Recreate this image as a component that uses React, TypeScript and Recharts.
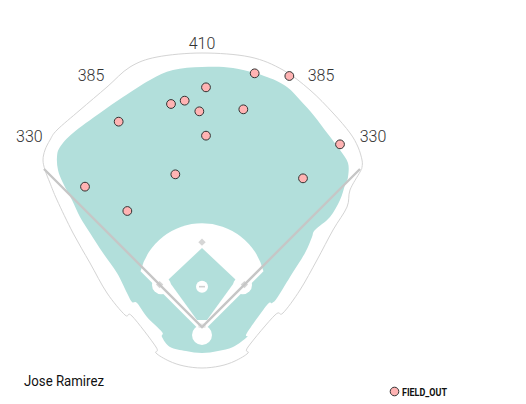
import { ScatterChart, Scatter, XAxis, YAxis } from 'recharts'

// spray chart, feet from home plate (x = toward 1B side, y = toward CF)
const W = 526
const H = 404
const X_MIN = -303
const X_MAX = 486
const Y_MIN = -115.5
const Y_MAX = 490.5
const PX_PER_FT = W / (X_MAX - X_MIN)

const TEAL = '#b2dfdb'
const LINE_GRAY = '#c6c6c6'
const POINT_FILL = '#ffb3b3'

// batted balls (all FIELD_OUT)
const hitX = [79, 131, 6, -46.5, -26, -4, 62, -125, 6, 207, -40, 151.5, -175.5, -112]
const hitY = [380.5, 376.5, 359.5, 334.5, 339.5, 323.5, 326.5, 308, 287, 274, 229, 223, 210.5, 174]
const hits = hitX.map((x, i) => ({ x, y: hitY[i], event: 'FIELD_OUT' }))

// wall distances
const distanceText = ['330', '385', '410', '385', '330']
const distanceX = [-259, -166.5, 0, 178.5, 256.5]
const distanceY = [286.5, 378, 426, 378, 286.5]
const distances = distanceText.map((text, i) => ({ x: distanceX[i], y: distanceY[i], text }))

// field outline (wall + foul territory edge)
const wallOutline: [number, number][] = [
  [-235.5, 235.5], [-238.5, 250.5], [-235.5, 265.5], [-228, 280.5], [-217.5, 295.5],
  [-183, 325.5], [-142.5, 360], [-108, 390], [-67.5, 405], [0, 411],
  [72, 405], [121.5, 385.5], [162, 355.5], [196.5, 321], [222, 291], [234, 270],
  [240, 250.5], [240, 240], [237, 232.5], [222, 205.5], [217.5, 180], [196.5, 145.5],
  [172.5, 100.5], [147, 55.5], [121.5, 21], [109.5, 18], [69, -30], [69, -39],
  [49.5, -51], [27, -58.5], [0, -61.5], [-27, -58.5], [-49.5, -51], [-69, -39],
  [-69, -30], [-105, 16.5], [-115.5, 18], [-142.5, 51], [-168, 96], [-193.5, 141],
  [-217.5, 190.5], [-228, 216],
]

const outfieldGrass: [number, number][] = [
  [0, 390], [46.5, 388.5], [97.5, 375], [127.5, 360], [147, 340.5], [168, 317],
  [188, 290.5], [207, 265.5], [219, 246], [219, 225], [214.5, 213], [207, 190.5],
  [192, 165], [169.5, 145.5], [165, 135], [154.5, 111], [132, 75], [112.5, 43.5],
  [105, 36], [97.5, 33], [67.5, -9], [67.5, -15], [46.5, -30], [24, -36], [0, -39],
  [-24, -36], [-48, -30], [-60, -15], [-60, -7.5], [-82.5, 15], [-97.5, 36],
  [-105, 37.5], [-112.5, 51], [-127.5, 81], [-148.5, 111], [-168, 141], [-183, 165],
  [-195, 190.5], [-208.5, 216], [-216, 235.5], [-217.5, 255], [-213, 270],
  [-193.5, 291], [-153, 321], [-118.5, 345], [-78, 370.5], [-43.5, 385.5],
]

// infield dirt: home-left, arc start, arc end, home-right, arc centre (mound)
const infieldDirt: [number, number][] = [
  [-4.2, -4.2], [-92.2, 83.6], [92.2, 83.6], [4.2, -4.2], [0, 60.5],
]

const infieldGrass: [number, number][] = [
  [0, 118.5], [51, 70.5], [7.5, 10.5], [-7.5, 10.5], [-51, 70.5],
]

const homeCircle = [{ x: 0, y: -12, r: 15 }]
const cutoutCircles = [
  { x: 61, y: 63, r: 14 },
  { x: -61, y: 63, r: 14 },
  { x: 0, y: 60.5, r: 9 },
]

const bases = [
  { x: 63.6, y: 63.6, kind: 'base' },
  { x: 0, y: 127.3, kind: 'base' },
  { x: -63.6, y: 63.6, kind: 'base' },
  { x: 0, y: 60.5, kind: 'rubber' },
  { x: 0, y: 2, kind: 'plate' },
]

const foulLines: [number, number][] = [[-237, 237], [0, 0], [237, 237]]

const toData = (pts: [number, number][]) => pts.map(([x, y]) => ({ x, y }))
const noShape = () => <g />

// closed catmull-rom through the projected points
function smoothClosed(pts: { x: number; y: number }[]) {
  const n = pts.length
  let d = `M${pts[0].x},${pts[0].y}`
  for (let i = 0; i < n; i++) {
    const p0 = pts[(i - 1 + n) % n]
    const p1 = pts[i]
    const p2 = pts[(i + 1) % n]
    const p3 = pts[(i + 2) % n]
    const c1x = p1.x + (p2.x - p0.x) / 6
    const c1y = p1.y + (p2.y - p0.y) / 6
    const c2x = p2.x - (p3.x - p1.x) / 6
    const c2y = p2.y - (p3.y - p1.y) / 6
    d += `C${c1x},${c1y} ${c2x},${c2y} ${p2.x},${p2.y}`
  }
  return d + 'Z'
}

const polygon = (fill: string, stroke = 'none', strokeWidth = 1, smooth = false) => (props: any) => {
  const pts = props.points || []
  if (!pts.length) return <g />
  const d = smooth
    ? smoothClosed(pts)
    : pts.map((p: any, i: number) => `${i ? 'L' : 'M'}${p.x},${p.y}`).join('') + 'Z'
  return <path d={d} fill={fill} stroke={stroke} strokeWidth={strokeWidth} />
}

const dirtPath = (props: any) => {
  const p = props.points || []
  if (p.length < 5) return <g />
  const c = p[4]
  const r = Math.hypot(p[1].x - c.x, p[1].y - c.y)
  const d = `M${p[0].x},${p[0].y}L${p[1].x},${p[1].y}A${r},${r} 0 0 1 ${p[2].x},${p[2].y}L${p[3].x},${p[3].y}Z`
  return <path d={d} fill="#fff" />
}

const polyline = (props: any) => {
  const pts = props.points || []
  if (!pts.length) return <g />
  const d = pts.map((p: any, i: number) => `${i ? 'L' : 'M'}${p.x},${p.y}`).join('')
  return <path d={d} fill="none" stroke={LINE_GRAY} strokeWidth={2.4} />
}

const whiteCircle = (props: any) => (
  <circle cx={props.cx} cy={props.cy} r={props.payload.r * PX_PER_FT} fill="#fff" />
)

const baseShape = (props: any) => {
  const { cx, cy, payload } = props
  if (payload.kind === 'rubber') {
    return <rect x={cx - 3} y={cy - 0.8} width={6} height={1.6} fill="#d0d0d0" />
  }
  if (payload.kind === 'plate') {
    return <rect x={cx - 3} y={cy - 1.5} width={6} height={3} fill="#fff" stroke="#d8d8d8" strokeWidth={0.8} />
  }
  return (
    <rect x={cx - 2.6} y={cy - 2.6} width={5.2} height={5.2} fill="#d6d6d6"
      transform={`rotate(45 ${cx} ${cy})`} />
  )
}

const distanceLabel = (props: any) => (
  <text x={props.cx} y={props.cy} textAnchor="middle" dominantBaseline="central"
    fontFamily="Roboto, sans-serif" fontWeight={300} fontSize={16} fill="#333">
    {props.payload.text}
  </text>
)

const hitDot = (props: any) => (
  <circle cx={props.cx} cy={props.cy} r={4.4} fill={POINT_FILL} stroke="#333" strokeWidth={1} />
)

export default function App() {
  return (
    <div style={{ position: 'relative', width: W, height: H, background: '#fff' }}>
      <style>{'body{margin:0}'}</style>
      <ScatterChart width={W} height={H} margin={{ top: 0, right: 0, bottom: 0, left: 0 }}>
        <XAxis type="number" dataKey="x" domain={[X_MIN, X_MAX]} allowDataOverflow hide />
        <YAxis type="number" dataKey="y" domain={[Y_MIN, Y_MAX]} allowDataOverflow hide />
        <Scatter data={toData(wallOutline)} line={polygon('#fff', '#d4d4d4', 1, true)} shape={noShape} isAnimationActive={false} />
        <Scatter data={toData(outfieldGrass)} line={polygon(TEAL, 'none', 1, true)} shape={noShape} isAnimationActive={false} />
        <Scatter data={toData(infieldDirt)} line={dirtPath} shape={noShape} isAnimationActive={false} />
        <Scatter data={homeCircle} shape={whiteCircle} isAnimationActive={false} />
        <Scatter data={toData(infieldGrass)} line={polygon(TEAL)} shape={noShape} isAnimationActive={false} />
        <Scatter data={cutoutCircles} shape={whiteCircle} isAnimationActive={false} />
        <Scatter data={bases} shape={baseShape} isAnimationActive={false} />
        <Scatter data={toData(foulLines)} line={polyline} shape={noShape} isAnimationActive={false} />
        <Scatter data={distances} shape={distanceLabel} isAnimationActive={false} />
        <Scatter name="FIELD_OUT" data={hits} shape={hitDot} isAnimationActive={false} />
      </ScatterChart>
      <svg width={W} height={H} style={{ position: 'absolute', left: 0, top: 0, pointerEvents: 'none' }}>
        <text x={24} y={386} fontFamily="Roboto, sans-serif" fontSize={15} fill="#111"
          textLength={80} lengthAdjust="spacingAndGlyphs">
          Jose Ramirez
        </text>
        <circle cx={394.5} cy={391.5} r={4.3} fill={POINT_FILL} stroke="#333" strokeWidth={1} />
        <text x={402} y={395.5} fontFamily="Roboto, sans-serif" fontWeight={700} fontSize={11}
          fill="#111" textLength={45} lengthAdjust="spacingAndGlyphs">
          FIELD_OUT
        </text>
      </svg>
    </div>
  )
}
